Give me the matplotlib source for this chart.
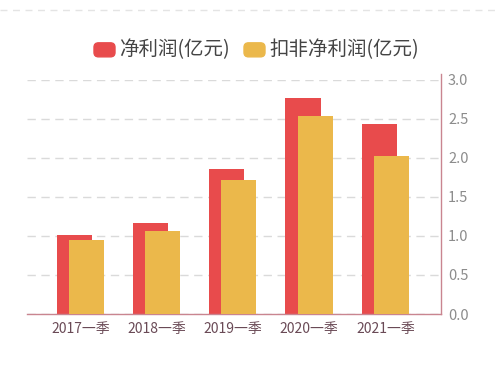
import numpy as np
import matplotlib.pyplot as plt
from matplotlib.lines import Line2D
from matplotlib.patches import FancyBboxPatch

plt.rcParams['font.family'] = ['Noto Sans CJK SC', 'DejaVu Sans']

# data
quarters = ['2017一季', '2018一季', '2019一季', '2020一季', '2021一季']
net_profit = [1.01, 1.16, 1.86, 2.76, 2.43]
net_profit_deducted = [0.95, 1.06, 1.71, 2.53, 2.02]
series_names = ['净利润(亿元)', '扣非净利润(亿元)']

RED = '#E84B4C'
YELLOW = '#EBB84B'
AXIS_COLOR = '#C98590'

fig = plt.figure(figsize=(5.0, 3.79), dpi=100)
ax = fig.add_axes([0.054, 0.1715, 0.828, 0.6185])

x = np.arange(len(quarters))
w = 0.46
off = 0.08
ax.bar(x - off, net_profit, width=w, color=RED, zorder=2, label=series_names[0])
ax.bar(x + off, net_profit_deducted, width=w, color=YELLOW, zorder=3, label=series_names[1])

ax.set_xlim(-0.70, 4.73)
ax.set_ylim(0, 3.0)
ax.set_yticks(np.arange(0, 3.01, 0.5))
ax.set_yticklabels(['%.1f' % v for v in np.arange(0, 3.01, 0.5)])
ax.yaxis.tick_right()
ax.set_xticks(x)
ax.set_xticklabels(quarters)

ax.tick_params(axis='y', length=0, pad=5, labelsize=10.5, labelcolor='#8C8C8C')
ax.tick_params(axis='x', length=0, pad=6, labelsize=10, labelcolor='#6A4A56')

for side in ['top', 'left']:
    ax.spines[side].set_visible(False)
ax.spines['right'].set_color(AXIS_COLOR)
ax.spines['bottom'].set_color(AXIS_COLOR)
ax.spines['right'].set_linewidth(1.0)
ax.spines['bottom'].set_linewidth(1.0)
ax.spines['right'].set_bounds(0, 3.07)
ax.spines['right'].set_clip_on(False)

ax.yaxis.grid(True, linestyle=(0, (6, 4)), color='#DADADA', linewidth=1.0, zorder=0)
ax.set_axisbelow(True)

# legend drawn by hand with rounded swatches
def swatch(xf, color):
    p = FancyBboxPatch((xf, 0.850), 0.042, 0.037,
                       boxstyle='round,pad=0.0,rounding_size=0.009',
                       transform=fig.transFigure, color=color, mutation_aspect=1.3)
    fig.patches.append(p)

swatch(0.188, RED)
fig.text(0.238, 0.870, series_names[0], fontsize=14, color='#444444', va='center', ha='left')
swatch(0.488, YELLOW)
fig.text(0.538, 0.870, series_names[1], fontsize=14, color='#444444', va='center', ha='left')

# faint dashed line along the top edge
fig.add_artist(Line2D([0, 1], [0.974, 0.974], transform=fig.transFigure,
                      color='#E4E4E4', linestyle=(0, (5, 4)), linewidth=1.0))

fig.savefig('out.png', dpi=100, facecolor='white')
